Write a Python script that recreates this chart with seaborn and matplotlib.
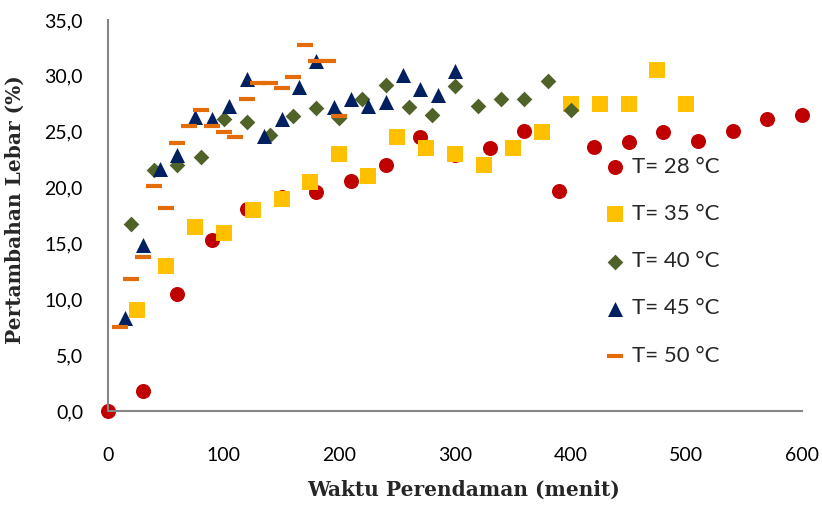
import pandas as pd
import numpy as np
import matplotlib
matplotlib.use("Agg")
import matplotlib.pyplot as plt
import seaborn as sns

# Data
t28_x = [0, 30, 60, 90, 120, 150, 180, 210, 240, 270, 300, 330, 360, 390, 420, 450, 480, 510, 540, 570, 600]
t28_y = [0.0, 1.8, 10.5, 15.3, 18.1, 19.2, 19.6, 20.6, 22.0, 24.5, 22.9, 23.5, 25.1, 19.7, 23.6, 24.1, 25.0, 24.2, 25.1, 26.1, 26.5]

t35_x = [25, 50, 75, 100, 125, 150, 175, 200, 225, 250, 275, 300, 325, 350, 375, 400, 425, 450, 475, 500]
t35_y = [9.0, 13.0, 16.5, 15.9, 18.0, 19.0, 20.5, 23.0, 21.0, 24.5, 23.5, 23.0, 22.0, 23.5, 25.0, 27.5, 27.5, 27.5, 30.5, 27.5]

t40_x = [20, 40, 60, 80, 100, 120, 140, 160, 180, 200, 220, 240, 260, 280, 300, 320, 340, 360, 380, 400]
t40_y = [16.7, 21.6, 22.0, 22.7, 26.1, 25.9, 24.7, 26.4, 27.1, 26.2, 27.9, 29.2, 27.2, 26.5, 29.1, 27.3, 27.9, 27.9, 29.5, 26.9]

t45_x = [15, 30, 45, 60, 75, 90, 105, 120, 135, 150, 165, 180, 195, 210, 225, 240, 255, 270, 285, 300]
t45_y = [8.3, 14.9, 21.7, 22.9, 26.3, 26.1, 27.3, 29.7, 24.6, 26.1, 29.0, 31.3, 27.2, 27.9, 27.3, 27.7, 30.1, 28.8, 28.3, 30.4]

t50_x = [10, 20, 30, 40, 50, 60, 70, 80, 90, 100, 110, 120, 130, 140, 150, 160, 170, 180, 190, 200]
t50_y = [7.5, 11.8, 13.8, 20.1, 18.2, 24.0, 25.5, 26.9, 25.5, 25.0, 24.5, 27.9, 29.4, 29.4, 28.9, 29.9, 32.8, 31.3, 31.3, 26.4]

labels = ["T= 28 °C", "T= 35 °C", "T= 40 °C", "T= 45 °C", "T= 50 °C"]
x_ticks = [0, 100, 200, 300, 400, 500, 600]
y_ticks = [0, 5, 10, 15, 20, 25, 30, 35]
y_tick_labels = ["0,0", "5,0", "10,0", "15,0", "20,0", "25,0", "30,0", "35,0"]

series = [
    (t28_x, t28_y, "o", "#C00000", 117),
    (t35_x, t35_y, "s", "#FFC000", 117),
    (t40_x, t40_y, "D", "#4F6228", 64),
    (t45_x, t45_y, "^", "#002060", 117),
    (t50_x, t50_y, "_", "#E46C0A", 117),
]

sns.set_style("white")
plt.rcParams['font.family'] = ['Lato', 'DejaVu Sans']

fig = plt.figure(figsize=(8.22, 5.05), dpi=100)
ax = fig.add_axes([0.1314, 0.1861, 0.8443, 0.7743])

for (xs, ys, mk, col, size), lab in zip(series, labels):
    df = pd.DataFrame({"x": xs, "y": ys})
    if mk == "_":
        sns.scatterplot(data=df, x="x", y="y", marker=mk, s=size, color=col,
                        edgecolor=col, linewidth=3, label=lab, ax=ax, clip_on=False)
    else:
        sns.scatterplot(data=df, x="x", y="y", marker=mk, s=size, color=col,
                        linewidth=0, label=lab, ax=ax, clip_on=False)

ax.set_xlim(0, 600)
ax.set_ylim(0, 35)
ax.set_xticks(x_ticks)
ax.set_yticks(y_ticks)
ax.set_yticklabels(y_tick_labels)

for side in ["top", "right"]:
    ax.spines[side].set_visible(False)
for side in ["left", "bottom"]:
    ax.spines[side].set_color("#868686")
    ax.spines[side].set_linewidth(1.5)

ax.tick_params(axis="both", which="major", direction="out", length=5, width=1.5,
               color="#868686", labelsize=14, labelcolor="black")
ax.tick_params(axis="y", pad=13)
ax.tick_params(axis="x", pad=21)

ax.set_xlabel("Waktu Perendaman (menit)", fontsize=14.5, fontweight="bold",
              family="DejaVu Serif")
ax.set_ylabel("Pertambahan Lebar (%)", fontsize=14.5, fontweight="bold",
              family="DejaVu Serif")
ax.xaxis.set_label_coords(0.512, -0.175)
ax.yaxis.set_label_coords(-0.12, 0.514)

ax.legend(loc="upper left", bbox_to_anchor=(0.705, 0.672), frameon=False,
          fontsize=16, handlelength=0.8, handletextpad=0.35, labelspacing=1.22,
          borderaxespad=0)

fig.savefig("out.png", dpi=100)
